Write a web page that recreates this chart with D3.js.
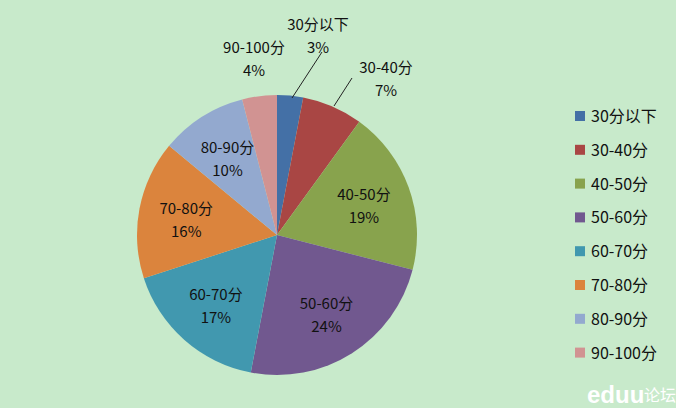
<!DOCTYPE html>
<html><head><meta charset="utf-8">
<script src="https://cdn.jsdelivr.net/npm/d3@7"></script>
<style>
body{margin:0;background:#c8eacb;}
svg{font-family:"Noto Sans CJK SC","Noto Sans",sans-serif;}
</style></head><body>
<svg id="c" width="676" height="408"></svg>
<script>
const categories = ['30分以下','30-40分','40-50分','50-60分','60-70分','70-80分','80-90分','90-100分'];
const percents = [3, 7, 19, 24, 17, 16, 10, 4];
const colors = ['#4470a6','#a94644','#88a34d','#71588f','#4198af','#db843d','#93a9cf','#d19392'];

const svg = d3.select('#c');
svg.append('rect').attr('width',676).attr('height',408).attr('fill','#c8eacb');
const cx = 277, cy = 235, r = 140;
const g = svg.append('g').attr('transform', `translate(${cx},${cy})`);
const pie = d3.pie().sort(null).value(d => d)(percents);
const arc = d3.arc().innerRadius(0).outerRadius(r);
g.selectAll('path').data(pie).join('path')
  .attr('d', arc).attr('fill', (d,i) => colors[i]);

const labelArc = d3.arc().innerRadius(r*0.66).outerRadius(r*0.66);
// outside labels for the small slices
const outside = {0:[318,34,[322,52],[292,98]], 1:[386,77,[352,78],[334,106]], 7:[254,57,null,null]};
pie.forEach((d,i) => {
  let x, y;
  if (outside[i]) {
    const o = outside[i]; x = o[0]; y = o[1];
    if (o[2]) svg.append('line').attr('x1',o[2][0]).attr('y1',o[2][1]).attr('x2',o[3][0]).attr('y2',o[3][1])
      .attr('stroke','#222').attr('stroke-width',1);
  } else {
    const c = labelArc.centroid(d); x = cx + c[0]; y = cy + c[1];
  }
  const t = svg.append('text').attr('text-anchor','middle').attr('font-size',15).attr('fill','#111');
  t.append('tspan').attr('x',x).attr('y',y-4).text(categories[i]);
  t.append('tspan').attr('x',x).attr('y',y+19).text(percents[i] + '%');
});

const leg = svg.append('g');
categories.forEach((c,i) => {
  const y = 116 + i*33.8;
  leg.append('rect').attr('x',575).attr('y',y-5).attr('width',10).attr('height',10).attr('fill',colors[i]);
  leg.append('text').attr('x',591).attr('y',y+6).attr('font-size',16).attr('fill','#111').text(c);
});
svg.append('text').attr('x',587).attr('y',403).attr('font-size',24).attr('font-weight','bold')
  .attr('fill','#ffffff').attr('font-family','Arial, sans-serif').text('eduu');
svg.append('text').attr('x',644).attr('y',401).attr('font-size',16).attr('fill','#ffffff').text('论坛');
</script></body></html>
